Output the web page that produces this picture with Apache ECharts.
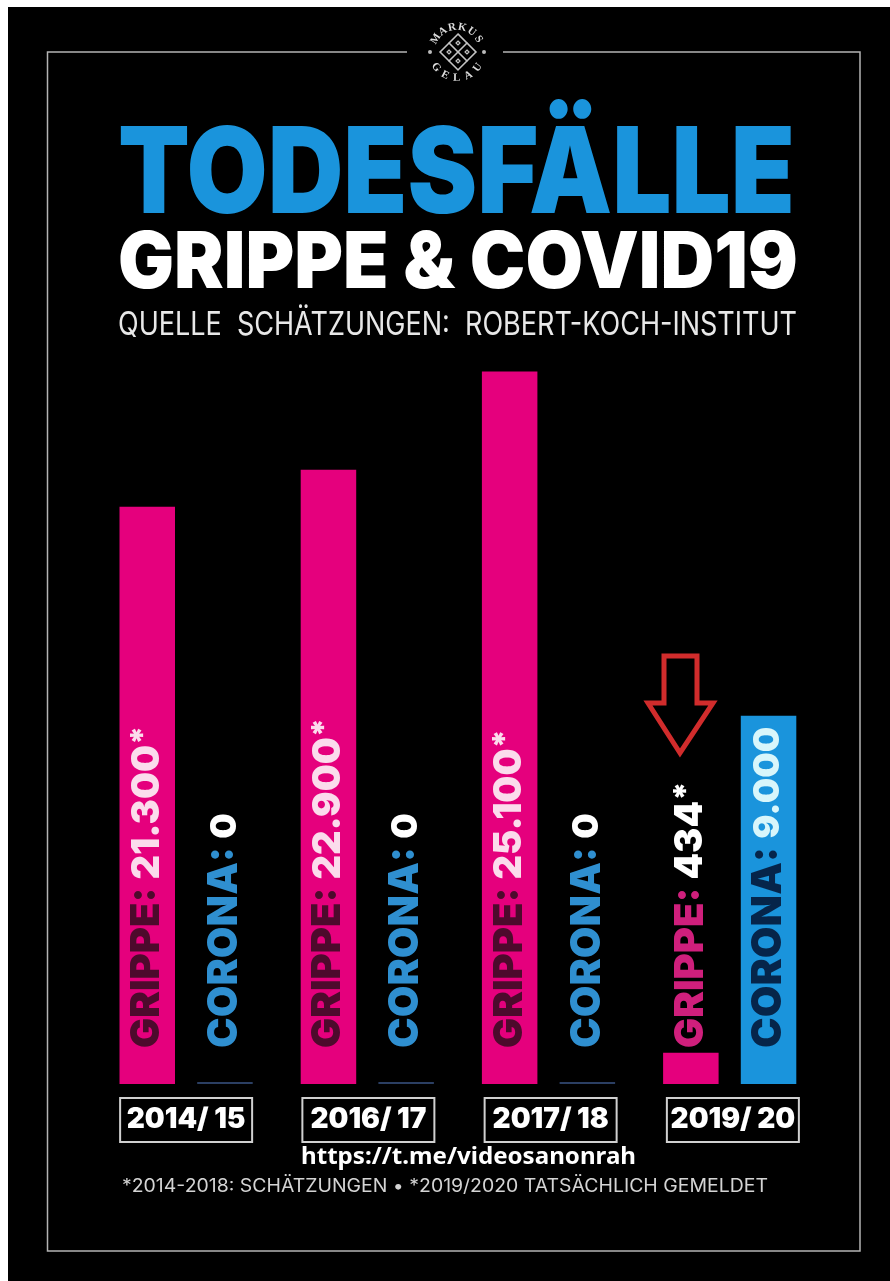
<!DOCTYPE html>
<html>
<head>
<meta charset="utf-8">
<style>
  html, body { margin: 0; padding: 0; background: #fff; }
  #main { width: 890px; height: 1281px; filter: blur(.5px); }
</style>
<script src="https://cdn.jsdelivr.net/npm/echarts@6/dist/echarts.min.js"></script>
</head>
<body>
<div id="main"></div>
<script>
// saisons
var seasons = ['2014/ 15', '2016/ 17', '2017/ 18', '2019/ 20'];
// printed numbers on the bars
var grippeLabels = ['21.300', '22.900', '25.100', '434'];
var coronaLabels = ['0', '0', '0', '9.000'];
// bar lengths as drawn in the poster (it is not to scale with the printed numbers)
var grippeDrawn = [21300, 22670, 26290, 1150];
var coronaDrawn = [0, 0, 0, 13590];

var PINK = '#e5007d', BLUE = '#1a94dc', LINE = '#b4b4b4';
var FONT = 'Inter';

var chart = echarts.init(document.getElementById('main'));

// text squeezed to the width it has in the poster
var ctx = document.createElement('canvas').getContext('2d');
function fitted(str, x, y, w, size, weight, color, family) {
    var font = weight + ' ' + size + 'px "' + (family || FONT) + '"';
    ctx.font = font;
    var sx = w / ctx.measureText(str).width;
    return {
        type: 'text', x: x, y: y, scaleX: sx, z: 10,
        style: { text: str, font: font, fill: color, align: 'left', verticalAlign: 'middle' }
    };
}

// round logo at the top of the frame
function logo(cx, cy) {
    var out = [];
    function letter(c, deg, r, turn) {
        var a = deg * Math.PI / 180;
        out.push({
            type: 'text', x: cx + r * Math.sin(a), y: cy - r * Math.cos(a), rotation: turn - a, z: 10,
            style: { text: c, font: 'bold 11px "Liberation Serif"', fill: '#dcdcdc', align: 'center', verticalAlign: 'middle' }
        });
    }
    'MARKUS'.split('').forEach(function (c, i) { letter(c, -58 + 23.4 * i, 25, 0); });
    'GELAU'.split('').forEach(function (c, i) { letter(c, 234 - 26.7 * i, 26, Math.PI); });
    [[0, 0, 18], [0, -9, 9], [9, 0, 9], [0, 9, 9], [-9, 0, 9], [0, -9, 2], [9, 0, 2], [0, 9, 2], [-9, 0, 2]].forEach(function (d) {
        var x = cx + 1 + d[0], y = cy + d[1], s = d[2];
        out.push({
            type: 'polygon', z: 10,
            shape: { points: [[x, y - s], [x + s, y], [x, y + s], [x - s, y]] },
            style: { fill: 'none', stroke: '#c4c4c4', lineWidth: 1.2 }
        });
    });
    [-27, 27].forEach(function (d) {
        out.push({ type: 'circle', z: 10, shape: { cx: cx + d, cy: cy, r: 2 }, style: { fill: '#bbb' } });
    });
    return out;
}

function grippeItem(v, i) {
    var small = i === 3;
    return {
        value: v,
        label: {
            formatter: '{a|GRIPPE: }{b|' + grippeLabels[i] + '}{c|*}',
            rich: {
                a: { fontFamily: FONT, fontWeight: 900, fontSize: 40, color: small ? '#cf1f7c' : '#4d0a2c' },
                b: { fontFamily: FONT, fontWeight: 900, fontSize: 38, color: small ? '#fff' : '#fbdcec' },
                c: { fontFamily: FONT, fontWeight: 900, fontSize: 32, color: small ? '#fff' : '#fbdcec', verticalAlign: 'top' }
            }
        }
    };
}

function coronaItem(v, i) {
    var filled = v > 0;
    return {
        value: v,
        itemStyle: { color: filled ? BLUE : '#2b3f63' },
        label: {
            formatter: '{a|CORONA: }{b|' + coronaLabels[i] + '}',
            rich: {
                a: { fontFamily: FONT, fontWeight: 900, fontSize: 41, color: filled ? '#06254a' : '#2f8fd0' },
                b: { fontFamily: FONT, fontWeight: 900, fontSize: 36, color: filled ? '#d8f6fb' : '#fff' }
            }
        }
    };
}

var barLabel = { show: true, position: 'insideBottom', distance: 36, rotate: 90, align: 'left', verticalAlign: 'middle' };

chart.setOption({
    animation: false,
    backgroundColor: '#fff',
    grid: [
        { left: 95.5, top: 0, width: 724.8, bottom: 197 },
        { left: 95, top: 0, width: 729, bottom: 197 }   // year boxes sit a little wider than the bars
    ],
    xAxis: [
        { type: 'category', gridIndex: 0, data: seasons, axisLine: { show: false }, axisTick: { show: false }, axisLabel: { show: false } },
        {
            type: 'category', gridIndex: 1, data: seasons, axisLine: { show: false }, axisTick: { show: false },
            axisLabel: {
                margin: 14, interval: 0, width: 132, height: 44, lineHeight: 44, align: 'center',
                borderColor: '#d0d0d0', borderWidth: 2,
                color: '#fff', fontFamily: FONT, fontWeight: 900, fontSize: 28
            }
        }
    ],
    yAxis: [
        { type: 'value', gridIndex: 0, min: 0, max: 40000, show: false },
        { type: 'value', gridIndex: 1, min: 0, max: 40000, show: false }
    ],
    series: [
        {
            name: 'Grippe', type: 'bar', barWidth: 55.5, barGap: '40%',
            itemStyle: { color: PINK }, label: barLabel,
            data: grippeDrawn.map(grippeItem)
        },
        {
            name: 'Corona', type: 'bar', barWidth: 55.5, barMinHeight: 2,
            itemStyle: { color: BLUE }, label: barLabel,
            data: coronaDrawn.map(coronaItem)
        }
    ],
    graphic: [
        { type: 'rect', z: -10, shape: { x: 8, y: 7, width: 882, height: 1274 }, style: { fill: '#000' } },
        {
            type: 'polyline', z: 10,
            shape: { points: [[407, 52], [47.5, 52], [47.5, 1251], [860, 1251], [860, 52], [503, 52]] },
            style: { fill: 'none', stroke: LINE, lineWidth: 1.5 }
        },
        // red arrow pointing at the 434
        {
            type: 'polygon', z: 10,
            shape: { points: [[664, 656], [697, 656], [697, 703], [713, 703], [680, 753], [648, 703], [664, 703]] },
            style: { fill: 'none', stroke: '#d12c2c', lineWidth: 5 }
        },
        fitted('TODESFÄLLE', 118, 177, 677, 120, 900, BLUE),
        fitted('GRIPPE & COVID19', 118, 265, 680, 78, 900, '#fff'),
        fitted('QUELLE  SCHÄTZUNGEN:  ROBERT-KOCH-INSTITUT', 118, 325, 679, 32, 400, '#e8e8e8'),
        fitted('https://t.me/videosanonrah', 301, 1157, 335, 23, 700, '#fff', 'Noto Sans'),
        fitted('*2014-2018: SCHÄTZUNGEN • *2019/2020 TATSÄCHLICH GEMELDET', 122, 1187, 646, 18, 400, '#d4d4d4')
    ].concat(logo(457, 52))
});
</script>
</body>
</html>
